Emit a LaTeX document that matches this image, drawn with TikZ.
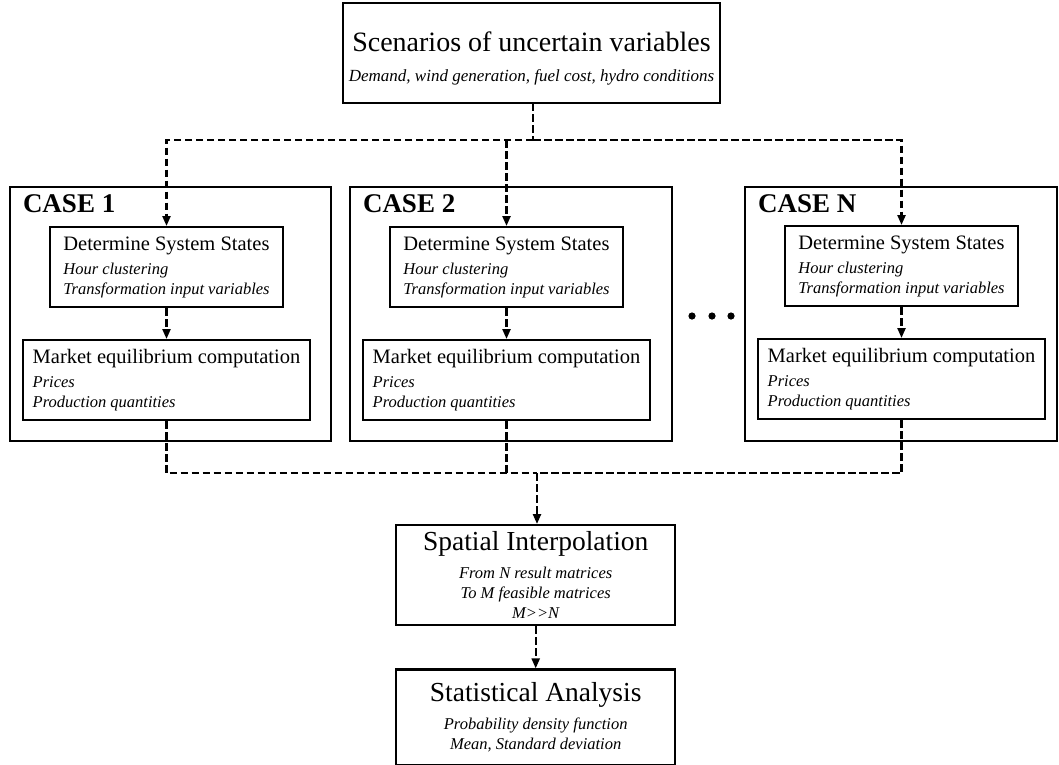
\documentclass[tikz,border=0pt]{standalone}
\usepackage{fontspec}
\setmainfont{Liberation Serif}
\usetikzlibrary{arrows.meta,positioning}

\begin{document}
\begin{tikzpicture}[x=1pt, y=1pt, >={Triangle[length=10pt,width=8pt]},
  bigbox/.style={draw, line width=2.4pt, inner sep=0pt, outer sep=0pt},
  stepbox/.style={draw, line width=2pt, align=left, inner sep=0pt, minimum height=80pt},
  mainbox/.style={draw, line width=2.4pt, align=center, inner sep=0pt, minimum width=279pt},
  caselabel/.style={inner sep=0pt, outer sep=0pt, font=\fontsize{27}{30}\selectfont\bfseries},
  link/.style={line width=2.2pt, dash pattern=on 7.5pt off 3.5pt}]
  \useasboundingbox (0,0) rectangle (1059,-764);
  % input scenarios
  \node[bigbox, anchor=north west, minimum width=377pt, minimum height=100pt, align=center,
    font=\fontsize{17}{20}\selectfont] (scen) at (343,-3)
    {{\fontsize{28}{30}\selectfont\rule{0pt}{30pt}Scenarios of uncertain variables}\\[10pt]
     \itshape Demand, wind generation, fuel cost, hydro conditions};
  % the N cases
  \node[bigbox, anchor=north west, minimum width=321pt, minimum height=254pt] (c1) at (10,-187) {};
  \node[bigbox, right=19pt of c1, minimum width=322pt, minimum height=254pt] (c2) {};
  \node[bigbox, right=73pt of c2, minimum width=312pt, minimum height=254pt] (cN) {};
  \node[caselabel, below right=8pt and 13pt of c1.north west] (l1) {CASE 1};
  \node[caselabel, below right=8pt and 13pt of c2.north west] (l2) {CASE 2};
  \node[caselabel, below right=8pt and 13pt of cN.north west] (lN) {CASE N};
  \node[stepbox, minimum width=233pt, below right=39pt and 39pt of c1.north west, font=\fontsize{16.5}{20}\selectfont] (det1)
    {{\fontsize{20.5}{22}\selectfont Determine System States}\\[4pt] \itshape Hour clustering\\ \itshape Transformation input variables};
  \node[stepbox, minimum width=233pt, below right=39pt and 39pt of c2.north west, font=\fontsize{16.5}{20}\selectfont] (det2)
    {{\fontsize{20.5}{22}\selectfont Determine System States}\\[4pt] \itshape Hour clustering\\ \itshape Transformation input variables};
  \node[stepbox, minimum width=233pt, below right=38pt and 39pt of cN.north west, font=\fontsize{16.5}{20}\selectfont] (detN)
    {{\fontsize{20.5}{22}\selectfont Determine System States}\\[4pt] \itshape Hour clustering\\ \itshape Transformation input variables};
  \node[stepbox, minimum width=287pt, below right=152pt and 12pt of c1.north west, font=\fontsize{16.5}{20}\selectfont] (m1)
    {{\fontsize{20.5}{22}\selectfont Market equilibrium computation}\\[4pt] \itshape Prices\\ \itshape Production quantities};
  \node[stepbox, minimum width=287pt, below right=152pt and 12pt of c2.north west, font=\fontsize{16.5}{20}\selectfont] (m2)
    {{\fontsize{20.5}{22}\selectfont Market equilibrium computation}\\[4pt] \itshape Prices\\ \itshape Production quantities};
  \node[stepbox, minimum width=287pt, below right=151pt and 12pt of cN.north west, font=\fontsize{16.5}{20}\selectfont] (mN)
    {{\fontsize{20.5}{22}\selectfont Market equilibrium computation}\\[4pt] \itshape Prices\\ \itshape Production quantities};
  \fill (692,-316) circle (3.6pt) (712,-316) circle (3.6pt) (731,-316) circle (3.6pt);
  % post processing
  \node[mainbox, anchor=north west, minimum height=100pt, font=\fontsize{16.5}{20}\selectfont] (sp) at (395,-524)
    {{\fontsize{27.5}{30}\selectfont Spatial Interpolation}\\[8pt] \itshape From N result matrices\\ \itshape To M feasible matrices\\ \itshape M>\kern0pt>N};
  \node[mainbox, below=42pt of sp, minimum height=96pt, font=\fontsize{16.5}{20}\selectfont] (stat)
    {{\fontsize{27.5}{30}\selectfont Statistical Analysis}\\[8pt] \itshape Probability density function\\ \itshape Mean, Standard deviation};
  % connectors
  \coordinate (fork) at (533,-140);
  \coordinate (join) at (537,-473);
  \draw[link] (fork |- scen.south) -- (fork);
  \draw[link, ->] (fork) -| (det1.north);
  \draw[link, ->] (fork) -| (detN.north);
  \draw[link, ->] (det2.north |- fork) -- (det2.north);
  \draw[link, ->] (det1) -- (m1);
  \draw[link, ->] (det2) -- (m2);
  \draw[link, ->] (detN) -- (mN);
  \draw[link] (m1.south) |- (join);
  \draw[link] (mN.south) |- (join);
  \draw[link] (m2.south) -- (m2.south |- join);
  \draw[link, ->] (join) -- (join |- sp.north);
  \draw[link, ->] (sp) -- (stat);
\end{tikzpicture}
\end{document}
